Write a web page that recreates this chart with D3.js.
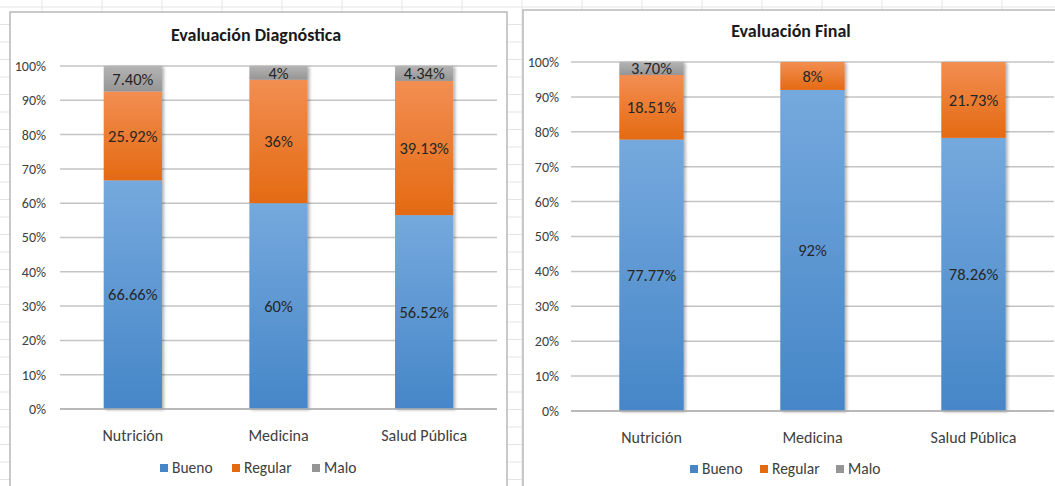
<!DOCTYPE html>
<html>
<head>
<meta charset="utf-8">
<script src="https://cdn.jsdelivr.net/npm/d3@7"></script>
<style>
  body { margin: 0; background: #fff; }
  svg { display: block; font-family: Carlito, Lato, "Open Sans", sans-serif; }
</style>
</head>
<body>
<svg id="page" width="1055" height="486"></svg>
<script>
// chart data
const categories = ["Nutrición", "Medicina", "Salud Pública"];
const seriesNames = ["Bueno", "Regular", "Malo"];
const yTicks = [0, 10, 20, 30, 40, 50, 60, 70, 80, 90, 100];

const diagBueno   = [66.66, 60, 56.52];
const diagRegular = [25.92, 36, 39.13];
const diagMalo    = [7.40, 4, 4.34];

const finalBueno   = [77.77, 92, 78.26];
const finalRegular = [18.51, 8, 21.73];
const finalMalo    = [3.70, 0, 0];

const colors = {
  Bueno:   ["#75a9dd", "#4686c8"],
  Regular: ["#f28e52", "#e46a12"],
  Malo:    ["#b4b4b4", "#959595"]
};

const svg = d3.select("#page");

// faint spreadsheet grid behind the charts
const sheet = svg.append("g").attr("stroke", "#e3e3e3").attr("stroke-width", 1);
d3.range(42, 1055, 60).forEach(function(x) {
  sheet.append("line").attr("x1", x).attr("x2", x).attr("y1", 0).attr("y2", 486);
});
d3.range(7, 486, 17.5).forEach(function(y) {
  sheet.append("line").attr("x1", 0).attr("x2", 1055).attr("y1", y).attr("y2", y);
});

const defs = svg.append("defs");
seriesNames.forEach(function(s) {
  const g = defs.append("linearGradient").attr("id", "grad-" + s)
    .attr("x1", 0).attr("y1", 0).attr("x2", 0).attr("y2", 1);
  g.append("stop").attr("offset", "0%").attr("stop-color", colors[s][0]);
  g.append("stop").attr("offset", "100%").attr("stop-color", colors[s][1]);
});
defs.append("filter").attr("id", "shadow").attr("x", "-20%").attr("y", "-5%").attr("width", "140%").attr("height", "110%")
  .append("feDropShadow").attr("dx", 2).attr("dy", 1).attr("stdDeviation", 1.5)
  .attr("flood-color", "#000").attr("flood-opacity", 0.3);

function fmt(v) {
  return Number.isInteger(v) ? v + "%" : v.toFixed(2) + "%";
}

function drawChart(cfg) {
  const table = categories.map(function(c, i) {
    return {cat: c, Bueno: cfg.bueno[i], Regular: cfg.regular[i], Malo: cfg.malo[i]};
  });
  const stacked = d3.stack().keys(seriesNames)(table);

  // chart box
  svg.append("rect")
    .attr("x", cfg.box.x).attr("y", cfg.box.y)
    .attr("width", cfg.box.w).attr("height", cfg.box.h)
    .attr("fill", "#fff").attr("stroke", "#b8b8b8").attr("stroke-width", 1.5);

  svg.append("text")
    .attr("x", cfg.titleX).attr("y", cfg.titleY)
    .attr("text-anchor", "middle")
    .attr("font-size", 18).attr("font-weight", "bold").attr("fill", "#1a1a1a")
    .text(cfg.title);

  const x = d3.scaleBand().domain(categories).range([cfg.plot.left, cfg.plot.right]).paddingInner(0.6).paddingOuter(0.3);
  const y = d3.scaleLinear().domain([0, 100]).range([cfg.plot.bottom, cfg.plot.top]);

  // gridlines
  svg.append("g").selectAll("line").data(yTicks).enter().append("line")
    .attr("x1", cfg.plot.left).attr("x2", cfg.plot.right)
    .attr("y1", function(d) { return y(d); }).attr("y2", function(d) { return y(d); })
    .attr("stroke", "#c4c4c4").attr("stroke-width", 1.5);

  // y axis labels
  const yAxis = svg.append("g")
    .attr("transform", "translate(" + cfg.plot.left + ",0)")
    .call(d3.axisLeft(y).tickValues(yTicks).tickSize(0).tickPadding(cfg.tickPad).tickFormat(function(d) { return d + "%"; }))
    .attr("font-family", null).attr("font-size", null);
  yAxis.select(".domain").remove();
  yAxis.selectAll("text").attr("font-size", 14).attr("fill", "#404040");

  // x axis labels
  const xAxis = svg.append("g")
    .attr("transform", "translate(0," + cfg.plot.bottom + ")")
    .call(d3.axisBottom(x).tickSize(0).tickPadding(21))
    .attr("font-family", null).attr("font-size", null);
  xAxis.select(".domain").remove();
  xAxis.selectAll("text").attr("font-size", 16).attr("fill", "#404040");

  // stacked bars
  const layers = svg.append("g").attr("filter", "url(#shadow)").selectAll("g").data(stacked).enter().append("g")
    .attr("fill", function(d) { return "url(#grad-" + d.key + ")"; });
  layers.selectAll("rect").data(function(d) { return d; }).enter().append("rect")
    .attr("x", function(d) { return x(d.data.cat); })
    .attr("y", function(d) { return y(d[1]); })
    .attr("width", x.bandwidth())
    .attr("height", function(d) { return y(d[0]) - y(d[1]); });

  // data labels
  stacked.forEach(function(layer) {
    svg.append("g").selectAll("text").data(layer.filter(function(d) { return d[1] - d[0] > 0; })).enter().append("text")
      .attr("x", function(d) { return x(d.data.cat) + x.bandwidth() / 2; })
      .attr("y", function(d) { return (y(d[0]) + y(d[1])) / 2; })
      .attr("dy", "0.35em")
      .attr("text-anchor", "middle")
      .attr("font-size", 16.5).attr("fill", "#262626")
      .text(function(d) { return fmt(d[1] - d[0]); });
  });

  // x axis baseline
  svg.append("line")
    .attr("x1", cfg.plot.left).attr("x2", cfg.plot.right)
    .attr("y1", cfg.plot.bottom).attr("y2", cfg.plot.bottom)
    .attr("stroke", "#b0b0b0").attr("stroke-width", 1.5);

  // legend
  const legend = svg.append("g");
  seriesNames.forEach(function(s, i) {
    const lx = cfg.legendX[i];
    legend.append("rect").attr("x", lx).attr("y", cfg.legendY - 4).attr("width", 8).attr("height", 8)
      .attr("fill", colors[s][1]);
    legend.append("text").attr("x", lx + 12).attr("y", cfg.legendY).attr("dy", "0.35em")
      .attr("font-size", 15.5).attr("fill", "#404040").text(s);
  });
}

drawChart({
  title: "Evaluación Diagnóstica",
  bueno: diagBueno, regular: diagRegular, malo: diagMalo,
  box: {x: 10, y: 12, w: 497, h: 490},
  titleX: 256, titleY: 41,
  plot: {left: 60, right: 497, top: 66, bottom: 409},
  tickPad: 14,
  legendX: [160, 232, 312], legendY: 468
});

drawChart({
  title: "Evaluación Final",
  bueno: finalBueno, regular: finalRegular, malo: finalMalo,
  box: {x: 523, y: 10, w: 540, h: 490},
  titleX: 791, titleY: 37,
  plot: {left: 571, right: 1054, top: 62, bottom: 411},
  tickPad: 12,
  legendX: [690, 760, 836], legendY: 469
});
</script>
</body>
</html>
